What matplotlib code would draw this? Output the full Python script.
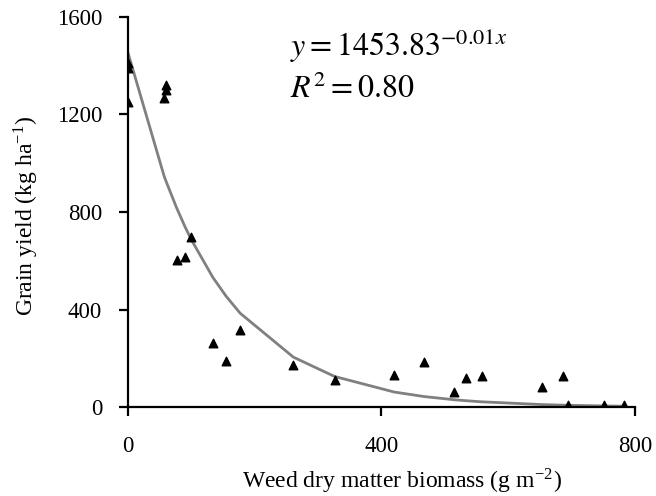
import numpy as np
import matplotlib
matplotlib.use("Agg")
import matplotlib.pyplot as plt

plt.rcParams['font.family'] = ['Liberation Serif', 'DejaVu Serif']
plt.rcParams['mathtext.fontset'] = 'stix'

# Weed biomass (g m-2) and grain yield (kg ha-1)
biomass = [0, 0, 0, 60, 60, 57, 100, 77, 90, 134, 155, 177, 261, 326,
           420, 467, 515, 534, 558, 653, 686, 695, 751, 783]
grain_yield = [1410, 1390, 1252, 1322, 1302, 1269, 699, 604, 617, 263, 190, 316,
               172, 111, 131, 186, 63, 121, 128, 83, 127, 8, 8, 10]

# exponential trendline parameters
fit_a = 1453.83
fit_b = -0.0075
fit_r2 = 0.80

fig = plt.figure(figsize=(6.56, 4.96), dpi=100)
ax = fig.add_axes([0.195, 0.179, 0.773, 0.787])

xs = np.array(sorted(set(biomass)), dtype=float)
ax.plot(xs, fit_a * np.exp(fit_b * xs), color='#808080', lw=2, zorder=2)
ax.scatter(biomass, grain_yield, marker='^', s=38, color='black', zorder=3)

ax.set_xlim(0, 800)
ax.set_ylim(0, 1600)
ax.set_xticks([0, 400, 800])
ax.set_yticks([0, 400, 800, 1200, 1600])
ax.spines['top'].set_visible(False)
ax.spines['right'].set_visible(False)
for s in ('left', 'bottom'):
    ax.spines[s].set_linewidth(1.6)
ax.tick_params(axis='both', direction='out', length=6.5, width=1.6, labelsize=16.5)
ax.tick_params(axis='x', pad=14)
ax.tick_params(axis='y', pad=12)

ax.set_xlabel('Weed dry matter biomass (g m$^{\\mathregular{-2}}$)', fontsize=17, va='baseline')
ax.set_ylabel('Grain yield (kg ha$^{\\mathregular{-1}}$)', fontsize=17)
ax.xaxis.set_label_coords(0.54, -0.208)
ax.yaxis.set_label_coords(-0.172, 0.49)

ax.text(0.32, 0.90, f'$y = {fit_a:.2f}^{{{fit_b:.2f}x}}$', transform=ax.transAxes,
        fontsize=23, va='baseline', ha='left')
ax.text(0.32, 0.792, f'$R^2 = {fit_r2:.2f}$', transform=ax.transAxes,
        fontsize=23, va='baseline', ha='left')

fig.savefig('out.png', dpi=100)
